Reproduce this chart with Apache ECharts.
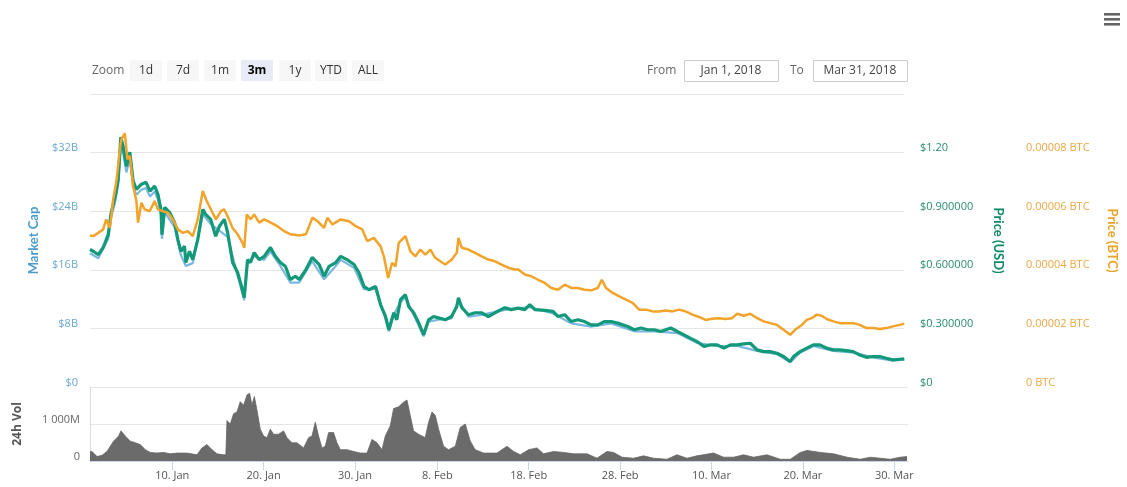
<!DOCTYPE html>
<html>
<head>
<meta charset="utf-8">
<script src="https://cdn.jsdelivr.net/npm/echarts@6/dist/echarts.min.js"></script>
<style>html,body{margin:0;padding:0;background:#fff;}#c{width:1127px;height:487px;}</style>
</head>
<body>
<div id="c"></div>
<script>
// x values are days since 1 Jan 2018 00:00
const marketCapB = [[0,18.25],[0.91,17.58],[2.0,20.23],[2.33,23.18],[2.77,25.31],[3.10,27.56],[3.39,33.16],[3.64,31.97],[3.83,32.23],[4.0,29.30],[4.38,31.17],[4.74,27.36],[5.10,26.24],[5.65,26.92],[6.16,27.17],[6.60,26.01],[7.11,26.68],[7.47,25.57],[7.80,23.57],[7.91,20.23],[8.21,23.86],[9.30,21.83],[9.99,18.02],[10.54,16.52],[11.30,16.91],[12.40,23.57],[13.27,22.25],[14.22,21.34],[15.13,20.51],[16.23,15.19],[16.96,11.85],[17.32,16.91],[18.05,17.84],[19.15,17.35],[19.84,18.51],[20.93,16.52],[22.02,14.26],[23.01,14.26],[24.43,17.19],[25.74,14.70],[27.02,16.52],[27.57,17.35],[29.03,16.26],[30.12,13.35],[31.40,13.35],[32.49,9.36],[32.86,7.60],[33.40,9.85],[34.14,11.59],[34.68,12.26],[35.59,9.85],[36.68,6.92],[37.23,8.92],[38.32,9.18],[39.75,9.36],[40.51,11.85],[41.61,9.59],[43.03,9.85],[45.62,10.53],[48.36,10.92],[50.91,10.03],[52.91,8.69],[55.10,8.25],[57.29,8.69],[59.85,7.60],[62.04,7.60],[64.58,7.36],[66.77,6.02],[68.96,5.60],[71.15,5.60],[73.34,4.93],[75.53,4.49],[76.98,3.37],[78.07,4.69],[79.54,5.60],[81.73,4.93],[83.92,4.69],[86.11,4.05],[88.29,3.60],[89.53,3.73]];

const usdPrice = [[0,0.704],[0.36,0.695],[0.91,0.678],[1.45,0.714],[2.0,0.780],[2.33,0.894],[2.77,0.976],[3.10,1.063],[3.39,1.279],[3.64,1.233],[3.83,1.243],[4.0,1.130],[4.38,1.202],[4.74,1.055],[5.10,1.012],[5.65,1.038],[6.16,1.048],[6.60,1.003],[7.11,1.029],[7.47,0.986],[7.80,0.909],[7.91,0.780],[8.21,0.920],[8.75,0.894],[9.30,0.842],[9.66,0.755],[9.99,0.695],[10.39,0.721],[10.54,0.637],[10.94,0.695],[11.30,0.652],[11.85,0.755],[12.40,0.909],[12.72,0.884],[13.27,0.858],[13.82,0.772],[14.22,0.823],[14.77,0.858],[15.13,0.791],[15.68,0.637],[16.23,0.586],[16.55,0.534],[16.96,0.457],[17.32,0.652],[17.65,0.637],[18.05,0.688],[18.60,0.652],[19.15,0.669],[19.84,0.714],[20.38,0.669],[20.93,0.637],[21.48,0.618],[22.02,0.550],[22.57,0.567],[23.01,0.550],[23.74,0.601],[24.43,0.663],[25.20,0.627],[25.74,0.567],[26.29,0.618],[27.02,0.637],[27.57,0.669],[28.26,0.652],[29.03,0.627],[29.57,0.586],[30.12,0.515],[30.67,0.498],[31.40,0.515],[31.95,0.421],[32.49,0.361],[32.86,0.293],[33.40,0.380],[33.73,0.344],[34.14,0.447],[34.68,0.473],[35.04,0.412],[35.59,0.380],[36.14,0.329],[36.68,0.267],[37.23,0.344],[37.78,0.361],[38.32,0.354],[39.06,0.344],[39.75,0.361],[40.33,0.412],[40.51,0.457],[40.88,0.406],[41.61,0.370],[42.34,0.380],[43.03,0.380],[43.80,0.361],[44.53,0.380],[45.62,0.406],[46.31,0.396],[47.08,0.404],[47.81,0.396],[48.36,0.421],[48.91,0.396],[50.0,0.392],[50.91,0.387],[51.45,0.361],[52.19,0.370],[52.91,0.335],[53.64,0.344],[54.38,0.335],[55.10,0.318],[55.83,0.318],[56.56,0.335],[57.29,0.335],[58.02,0.327],[59.12,0.310],[59.85,0.293],[60.57,0.302],[61.30,0.293],[62.04,0.293],[62.76,0.284],[63.85,0.302],[64.58,0.284],[65.32,0.267],[66.04,0.249],[66.77,0.232],[67.51,0.207],[68.23,0.216],[68.96,0.216],[69.69,0.199],[70.42,0.216],[71.15,0.216],[71.88,0.221],[72.60,0.224],[73.34,0.190],[74.07,0.181],[74.79,0.181],[75.53,0.173],[76.26,0.156],[76.98,0.130],[77.35,0.156],[78.07,0.181],[78.81,0.199],[79.54,0.216],[80.26,0.216],[80.99,0.199],[81.73,0.190],[82.45,0.190],[83.18,0.186],[83.92,0.181],[84.64,0.164],[85.37,0.152],[86.11,0.156],[86.83,0.156],[87.56,0.147],[88.29,0.139],[89.02,0.142],[89.53,0.144]];

const btcPrice = [[0,5.17e-5],[0.36,5.15e-5],[0.91,5.26e-5],[1.45,5.38e-5],[1.78,5.72e-5],[2.19,5.43e-5],[2.55,6.40e-5],[2.91,7.03e-5],[3.28,8.12e-5],[3.46,8.46e-5],[3.83,8.66e-5],[4.11,7.77e-5],[4.38,7.89e-5],[4.74,6.86e-5],[5.10,6.35e-5],[5.28,5.61e-5],[5.65,6.29e-5],[6.02,6.06e-5],[6.56,6.00e-5],[7.11,6.35e-5],[7.47,6.06e-5],[8.02,6.00e-5],[8.57,5.95e-5],[9.11,5.72e-5],[9.66,5.38e-5],[10.21,5.26e-5],[10.75,5.32e-5],[11.30,5.15e-5],[11.85,5.72e-5],[12.40,6.69e-5],[12.76,6.40e-5],[13.30,6.06e-5],[13.85,5.72e-5],[14.40,6.00e-5],[14.77,6.06e-5],[15.13,5.83e-5],[15.68,5.43e-5],[16.23,5.21e-5],[16.77,4.92e-5],[16.96,4.75e-5],[17.24,5.89e-5],[17.68,5.72e-5],[18.05,5.89e-5],[18.60,5.61e-5],[19.15,5.72e-5],[19.87,5.61e-5],[20.60,5.49e-5],[21.33,5.32e-5],[22.06,5.21e-5],[23.01,5.17e-5],[23.74,5.21e-5],[24.46,5.78e-5],[25.01,5.66e-5],[25.74,5.43e-5],[26.11,5.78e-5],[26.65,5.55e-5],[27.57,5.72e-5],[28.48,5.66e-5],[29.21,5.49e-5],[29.93,5.38e-5],[30.48,4.98e-5],[31.21,5.09e-5],[31.95,4.80e-5],[32.31,4.46e-5],[32.78,3.72e-5],[33.22,4.24e-5],[33.59,4.12e-5],[33.95,4.92e-5],[34.68,5.15e-5],[35.23,4.63e-5],[35.78,4.46e-5],[36.32,4.69e-5],[36.87,4.52e-5],[37.42,4.69e-5],[37.96,4.41e-5],[38.51,4.29e-5],[39.06,4.18e-5],[39.78,4.35e-5],[40.33,4.58e-5],[40.51,5.09e-5],[40.88,4.75e-5],[41.61,4.69e-5],[42.34,4.58e-5],[43.06,4.46e-5],[43.80,4.35e-5],[44.53,4.29e-5],[45.25,4.18e-5],[45.98,4.07e-5],[46.72,4.01e-5],[47.08,4.01e-5],[47.81,3.84e-5],[48.53,3.78e-5],[49.27,3.66e-5],[50.0,3.55e-5],[50.72,3.38e-5],[51.45,3.32e-5],[52.19,3.49e-5],[52.91,3.38e-5],[53.64,3.38e-5],[54.38,3.32e-5],[55.10,3.30e-5],[55.83,3.38e-5],[56.27,3.66e-5],[56.74,3.38e-5],[57.47,3.21e-5],[58.21,3.09e-5],[58.93,2.98e-5],[59.66,2.87e-5],[60.39,2.64e-5],[61.12,2.64e-5],[61.85,2.58e-5],[62.58,2.58e-5],[63.30,2.61e-5],[64.04,2.58e-5],[64.77,2.64e-5],[65.49,2.58e-5],[66.24,2.47e-5],[66.96,2.39e-5],[67.68,2.29e-5],[68.42,2.33e-5],[69.15,2.35e-5],[69.87,2.32e-5],[70.60,2.35e-5],[71.15,2.50e-5],[71.88,2.43e-5],[72.60,2.50e-5],[73.34,2.35e-5],[74.07,2.24e-5],[74.79,2.18e-5],[75.53,2.12e-5],[76.26,1.95e-5],[76.98,1.78e-5],[77.53,1.95e-5],[78.26,2.12e-5],[78.81,2.29e-5],[79.36,2.35e-5],[79.90,2.47e-5],[80.45,2.43e-5],[81.0,2.32e-5],[81.73,2.24e-5],[82.45,2.18e-5],[83.18,2.18e-5],[83.92,2.18e-5],[84.64,2.12e-5],[85.37,2.01e-5],[86.11,2.01e-5],[86.83,1.98e-5],[87.56,2.01e-5],[88.29,2.07e-5],[89.02,2.12e-5],[89.53,2.16e-5]];

const volumeM = [[0,250],[0.22,258],[0.77,120],[1.31,153],[1.86,258],[2.58,536],[3.13,675],[3.39,814],[3.86,675],[4.41,536],[4.96,492],[5.50,444],[6.05,306],[6.60,231],[7.33,214],[8.05,231],[8.79,194],[9.52,214],[10.61,214],[11.71,167],[12.25,353],[12.80,444],[13.35,306],[13.89,194],[14.62,167],[14.86,167],[14.99,1092],[15.35,1000],[15.71,1278],[16.08,1325],[16.44,1603],[16.81,1508],[17.18,1786],[17.46,1833],[17.72,1508],[17.98,1742],[18.27,1370],[18.63,861],[18.99,675],[19.37,631],[19.73,861],[20.09,722],[20.63,722],[21.18,814],[21.55,631],[22.10,492],[22.65,492],[23.37,353],[23.92,631],[24.29,675],[24.65,1047],[25.01,675],[25.38,353],[25.74,397],[26.11,769],[26.65,769],[27.02,492],[27.39,306],[28.12,306],[28.84,258],[29.57,214],[30.31,214],[30.85,583],[31.40,492],[31.95,306],[32.31,675],[32.86,953],[33.22,1417],[33.76,1464],[34.28,1583],[34.68,1647],[35.04,1231],[35.40,814],[35.95,722],[36.68,631],[37.05,1047],[37.42,1325],[37.78,1231],[38.14,861],[38.69,397],[39.23,306],[39.97,397],[40.51,908],[41.06,1000],[41.61,536],[42.15,306],[43.06,214],[44.53,214],[45.62,397],[46.35,258],[47.08,167],[47.99,306],[48.91,353],[49.63,194],[50.72,258],[51.82,231],[52.91,194],[54.38,194],[55.47,75],[56.56,258],[57.29,231],[58.21,103],[59.47,75],[60.57,139],[61.66,75],[63.13,47],[64.22,167],[65.32,75],[66.41,139],[68.23,214],[69.32,103],[70.42,103],[71.51,167],[72.60,103],[74.07,167],[75.53,47],[76.62,47],[77.72,231],[78.45,286],[79.90,231],[81.36,194],[82.82,103],[84.28,47],[85.37,103],[86.46,75],[87.56,47],[88.65,103],[89.39,119]];

const xTickDays = [9, 19, 29, 38, 48, 58, 68, 78, 88];
const xTickLabels = ['10. Jan', '20. Jan', '30. Jan', '8. Feb', '18. Feb', '28. Feb', '10. Mar', '20. Mar', '30. Mar'];
const capTickLabels = ['$0', '$8B', '$16B', '$24B', '$32B', ''];
const usdTickLabels = ['$0', '$0.300000', '$0.600000', '$0.900000', '$1.20', ''];
const btcTickLabels = ['0 BTC', '0.00002 BTC', '0.00004 BTC', '0.00006 BTC', '0.00008 BTC', ''];
const volTickLabels = ['0', '1 000M', ''];
const zoomButtons = ['1d', '7d', '1m', '3m', '1y', 'YTD', 'ALL'];
const selectedButton = '3m';
const rangeFrom = 'Jan 1, 2018';
const rangeTo = 'Mar 31, 2018';

const FONT = '"Open Sans", sans-serif';
const chart = echarts.init(document.getElementById('c'), null, {renderer: 'canvas'});

const graphics = [];
graphics.push({type: 'text', x: 92, y: 71, style: {text: 'Zoom', fill: '#666', font: '12px ' + FONT, verticalAlign: 'middle'}});
const btnX = [130, 167, 204, 241, 279, 315, 352];
zoomButtons.forEach((b, i) => {
  const sel = b === selectedButton;
  graphics.push({type: 'rect', shape: {x: btnX[i], y: 60, width: 32, height: 21, r: 1}, style: {fill: sel ? '#e6ebf5' : '#f7f7f7'}});
  graphics.push({type: 'text', x: btnX[i] + 16, y: 70.5, style: {text: b, fill: sel ? '#000' : '#333', font: (sel ? 'bold ' : '') + '12px ' + FONT, align: 'center', verticalAlign: 'middle'}});
});
graphics.push({type: 'text', x: 647, y: 70.5, style: {text: 'From', fill: '#666', font: '12px ' + FONT, verticalAlign: 'middle'}});
graphics.push({type: 'rect', shape: {x: 684.5, y: 60.5, width: 94, height: 21}, style: {fill: '#fff', stroke: '#cccccc', lineWidth: 1}});
graphics.push({type: 'text', x: 731, y: 70.5, style: {text: rangeFrom, fill: '#444', font: '12px ' + FONT, align: 'center', verticalAlign: 'middle'}});
graphics.push({type: 'text', x: 790, y: 70.5, style: {text: 'To', fill: '#666', font: '12px ' + FONT, verticalAlign: 'middle'}});
graphics.push({type: 'rect', shape: {x: 813.5, y: 60.5, width: 94, height: 21}, style: {fill: '#fff', stroke: '#cccccc', lineWidth: 1}});
graphics.push({type: 'text', x: 860, y: 70.5, style: {text: rangeTo, fill: '#444', font: '12px ' + FONT, align: 'center', verticalAlign: 'middle'}});
[13, 18, 23].forEach(y => {
  graphics.push({type: 'rect', shape: {x: 1104, y: y, width: 16, height: 2.6}, style: {fill: '#666'}});
});

const labelFont = {fontFamily: FONT, fontSize: 11, verticalAlign: 'bottom', lineHeight: 9};

const option = {
  backgroundColor: '#fff',
  animation: false,
  graphic: graphics,
  grid: [
    {left: 90, right: 219, top: 94, height: 293},
    {left: 90, right: 219, top: 387, height: 74}
  ],
  xAxis: [
    {type: 'value', gridIndex: 0, min: 0, max: 89.5, show: false},
    {type: 'value', gridIndex: 1, min: 0, max: 89.5,
     axisLine: {show: true, lineStyle: {color: '#ccd6eb'}},
     axisTick: {show: true, length: 9, lineStyle: {color: '#ccd6eb'}, customValues: xTickDays},
     splitLine: {show: false},
     axisLabel: {fontFamily: FONT, fontSize: 11, color: '#555', margin: 9, customValues: xTickDays,
       formatter: v => { const i = xTickDays.indexOf(v); return i >= 0 ? xTickLabels[i] : ''; }}}
  ],
  yAxis: [
    {type: 'value', gridIndex: 0, position: 'left', min: 0, max: 40, interval: 8,
     name: 'Market Cap', nameLocation: 'middle', nameGap: 50, nameRotate: 90,
     nameTextStyle: {color: '#4b9ccc', fontFamily: 'Lato, sans-serif', fontSize: 13, fontWeight: 'bold'},
     axisLine: {show: false}, axisTick: {show: false},
     splitLine: {lineStyle: {color: '#e6e6e6'}},
     axisLabel: Object.assign({color: '#6aa9d2', margin: 12, formatter: v => capTickLabels[Math.round(v / 8)]}, labelFont)},
    {type: 'value', gridIndex: 0, position: 'right', min: 0, max: 1.5, interval: 0.3,
     name: 'Price (USD)', nameLocation: 'middle', nameGap: 88, nameRotate: -90,
     nameTextStyle: {color: '#0f8a68', fontFamily: 'Lato, sans-serif', fontSize: 13, fontWeight: 'bold'},
     axisLine: {show: false}, axisTick: {show: false}, splitLine: {show: false},
     axisLabel: Object.assign({color: '#2a8c70', margin: 16, formatter: v => usdTickLabels[Math.round(v / 0.3)]}, labelFont)},
    {type: 'value', gridIndex: 0, position: 'right', offset: 106, min: 0, max: 0.0001, interval: 0.00002,
     name: 'Price (BTC)', nameLocation: 'middle', nameGap: 96, nameRotate: -90,
     nameTextStyle: {color: '#eba22a', fontFamily: 'Lato, sans-serif', fontSize: 13, fontWeight: 'bold'},
     axisLine: {show: false}, axisTick: {show: false}, splitLine: {show: false},
     axisLabel: Object.assign({color: '#e9a745', margin: 16, formatter: v => btcTickLabels[Math.round(v / 0.00002)]}, labelFont)},
    {type: 'value', gridIndex: 1, position: 'left', min: 0, max: 2000, interval: 1000,
     name: '24h Vol', nameLocation: 'middle', nameGap: 66, nameRotate: 90,
     nameTextStyle: {color: '#555', fontFamily: FONT, fontSize: 12, fontWeight: 'bold'},
     axisLine: {show: true, lineStyle: {color: '#dddddd'}}, axisTick: {show: false},
     splitLine: {lineStyle: {color: '#e6e6e6'}},
     axisLabel: Object.assign({color: '#666', margin: 10, formatter: v => volTickLabels[Math.round(v / 1000)]}, labelFont)}
  ],
  series: [
    {name: 'Market Cap', type: 'line', xAxisIndex: 0, yAxisIndex: 0, data: marketCapB, showSymbol: false,
     lineStyle: {color: '#7ab8e0', width: 2.2}, itemStyle: {color: '#7ab8e0'}, z: 2},
    {name: 'Price (USD)', type: 'line', xAxisIndex: 0, yAxisIndex: 1, data: usdPrice, showSymbol: false,
     lineStyle: {color: '#13997a', width: 3.2}, itemStyle: {color: '#13997a'}, z: 3},
    {name: 'Price (BTC)', type: 'line', xAxisIndex: 0, yAxisIndex: 2, data: btcPrice, showSymbol: false,
     lineStyle: {color: '#f2a32a', width: 2.5}, itemStyle: {color: '#f2a32a'}, z: 4},
    {name: '24h Vol', type: 'line', xAxisIndex: 1, yAxisIndex: 3, data: volumeM, showSymbol: false,
     lineStyle: {color: '#666', width: 0.8}, areaStyle: {color: '#6b6b6b', opacity: 1}, itemStyle: {color: '#666'}, z: 2}
  ]
};
chart.setOption(option);
</script>
</body>
</html>
